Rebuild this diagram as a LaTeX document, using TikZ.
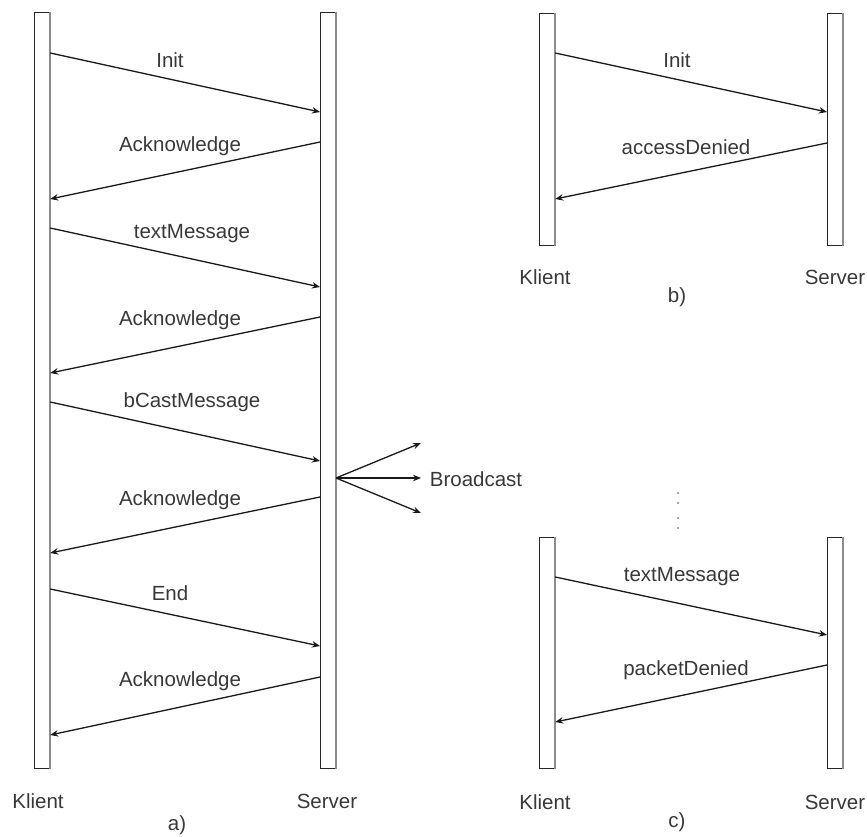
\documentclass[tikz,border=0pt]{standalone}
\usepackage{fontspec}
\setmainfont{Liberation Sans}
\usetikzlibrary{arrows.meta}
\begin{document}
\begin{tikzpicture}[x=1pt,y=-1pt,
  lifeline/.style={draw=black!85, fill=white, line width=1.2pt, minimum width=15pt, inner sep=0pt, anchor=north west},
  shade/.style={draw=black!45, line width=2.2pt},
  msg/.style={draw=black!90, line width=1.3pt, -{Stealth[length=8pt,width=6.5pt]}},
  lbl/.style={text=black!78, font=\fontsize{20.5}{23}\selectfont, inner sep=0pt}]
\useasboundingbox (0,0) rectangle (867,837);

% ---------- panel a ----------
\node[lifeline, minimum height=756pt] (ka) at (34,12) {};
\node[lifeline, minimum height=756pt] (sa) at (320,12) {};
\draw[shade] (ka.north east) -- (ka.south east);
\draw[shade] (sa.north east) -- (sa.south east);

\draw[msg] (ka.east |- 0,53)  -- (sa.west |- 0,112);
\draw[msg] (sa.west |- 0,142) -- (ka.east |- 0,199);
\draw[msg] (ka.east |- 0,228) -- (sa.west |- 0,287);
\draw[msg] (sa.west |- 0,317) -- (ka.east |- 0,373);
\draw[msg] (ka.east |- 0,402) -- (sa.west |- 0,461);
\draw[msg] (sa.west |- 0,497) -- (ka.east |- 0,553);
\draw[msg] (ka.east |- 0,589) -- (sa.west |- 0,646);
\draw[msg] (sa.west |- 0,677) -- (ka.east |- 0,735);

\node[lbl] (la1) at (170,60) {Init};
\node[lbl] (la2) at (180,146) {Acknowledge};
\node[lbl] (la3) at (192,234) {textMessage};
\node[lbl] (la4) at (180,320) {Acknowledge};
\node[lbl] (la5) at (192,402) {bCastMessage};
\node[lbl] (la6) at (180,500) {Acknowledge};
\node[lbl] (la7) at (170,593) {End};
\node[lbl] (la8) at (180,681) {Acknowledge};

% broadcast
\coordinate (bo) at (336,478);
\coordinate (b1) at (421,443);
\coordinate (b2) at (421,478);
\coordinate (b3) at (421,513);
\draw[msg] (bo) -- (b1);
\draw[msg] (bo) -- (b2);
\draw[msg] (bo) -- (b3);
\node[lbl] (bc) at (476,479) {Broadcast};

\node[lbl] (kla) at (38,801) {Klient};
\node[lbl] (sla) at (327,801) {Server};
\node[lbl] (cap a) at (177,825) {a)};

% ---------- panel b ----------
\node[lifeline, minimum height=232pt] (kb) at (539,13) {};
\node[lifeline, minimum height=232pt] (sb) at (827,13) {};
\draw[shade] (kb.north east) -- (kb.south east);
\draw[shade] (sb.north east) -- (sb.south east);

\draw[msg] (kb.east |- 0,53)  -- (sb.west |- 0,112);
\draw[msg] (sb.west |- 0,143) -- (kb.east |- 0,199);
\node[lbl] (lb1) at (677,60) {Init};
\node[lbl] (lb2) at (686,147) {accessDenied};

\node[lbl] (klb) at (545,277) {Klient};
\node[lbl] (slb) at (835,277) {Server};
\node[lbl] (cap b) at (677,297) {b)};

% dots
\foreach \yy in {493,503,518,528}
  \fill[black!70] (678,\yy) circle (0.9pt);

% ---------- panel c ----------
\node[lifeline, minimum height=231pt] (kc) at (539,537) {};
\node[lifeline, minimum height=231pt] (sc) at (827,537) {};
\draw[shade] (kc.north east) -- (kc.south east);
\draw[shade] (sc.north east) -- (sc.south east);

\draw[msg] (kc.east |- 0,577) -- (sc.west |- 0,635);
\draw[msg] (sc.west |- 0,665) -- (kc.east |- 0,722);
\node[lbl] (lc1) at (682,577) {textMessage};
\node[lbl] (lc2) at (686,670) {packetDenied};

\node[lbl] (klc) at (545,802) {Klient};
\node[lbl] (slc) at (835,802) {Server};
\node[lbl] (cap c) at (677,822) {c)};
\end{tikzpicture}
\end{document}
